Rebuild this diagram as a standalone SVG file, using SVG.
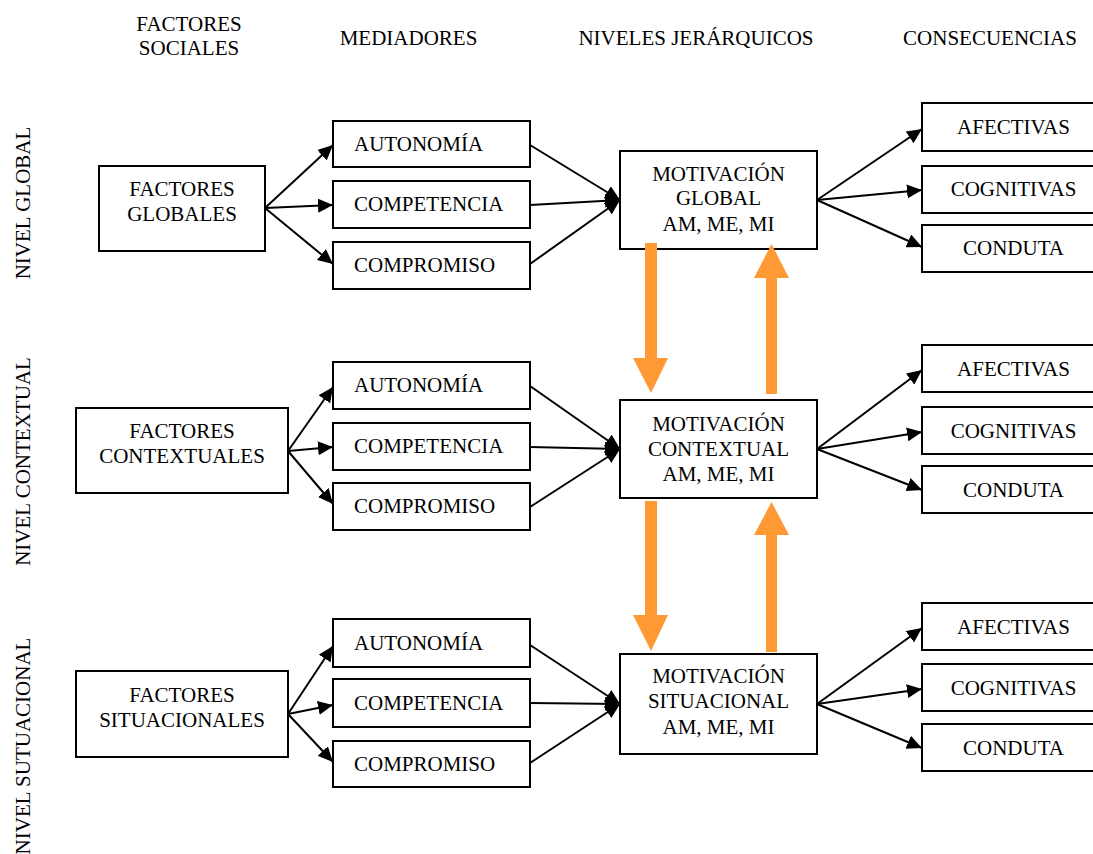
<svg xmlns="http://www.w3.org/2000/svg" width="1093" height="854" viewBox="0 0 1093 854">
  <style>
    text { font-family: "Liberation Serif", "Times New Roman", serif; font-size: 21px; fill: #000; }
    .mid { text-anchor: middle; }
    .box { fill: #fff; stroke: #000; stroke-width: 2; }
    .link { stroke: #000; stroke-width: 2; fill: none; marker-end: url(#arrow); }
    .flow { fill: #FF9933; stroke: none; }
  </style>
  <defs>
    <marker id="arrow" viewBox="0 0 15 14" refX="15" refY="7" markerWidth="15" markerHeight="14" markerUnits="userSpaceOnUse" orient="auto">
      <path d="M0,0 L15,7 L0,14 Z" fill="#000"/>
    </marker>
  </defs>

  <!-- column headings -->
  <g id="headings">
    <text class="mid" x="189" y="31">FACTORES</text>
    <text class="mid" x="189" y="55">SOCIALES</text>
    <text class="mid" x="408.5" y="45">MEDIADORES</text>
    <text class="mid" x="696" y="45">NIVELES JERÁRQUICOS</text>
    <text class="mid" x="990" y="45">CONSECUENCIAS</text>
  </g>

  <!-- level labels -->
  <g id="levels">
    <text class="mid" transform="translate(30,203) rotate(-90)">NIVEL GLOBAL</text>
    <text class="mid" transform="translate(30,461.5) rotate(-90)">NIVEL CONTEXTUAL</text>
    <text class="mid" transform="translate(30,746) rotate(-90)">NIVEL SUTUACIONAL</text>
  </g>

  <!-- connectors -->
  <g id="connectors">
    <!-- global -->
    <line class="link" x1="265" y1="208" x2="333" y2="145"/>
    <line class="link" x1="265" y1="208" x2="333" y2="205"/>
    <line class="link" x1="265" y1="208" x2="333" y2="264"/>
    <line class="link" x1="530" y1="145" x2="620" y2="200"/>
    <line class="link" x1="530" y1="205" x2="620" y2="200"/>
    <line class="link" x1="530" y1="264" x2="620" y2="200"/>
    <line class="link" x1="817" y1="200" x2="922" y2="129"/>
    <line class="link" x1="817" y1="200" x2="922" y2="190"/>
    <line class="link" x1="817" y1="200" x2="922" y2="247"/>
    <!-- contextual -->
    <line class="link" x1="288" y1="451" x2="333" y2="387"/>
    <line class="link" x1="288" y1="451" x2="333" y2="447"/>
    <line class="link" x1="288" y1="451" x2="333" y2="504"/>
    <line class="link" x1="530" y1="386" x2="620" y2="449"/>
    <line class="link" x1="530" y1="447" x2="620" y2="449"/>
    <line class="link" x1="530" y1="507" x2="620" y2="449"/>
    <line class="link" x1="817" y1="449" x2="922" y2="370"/>
    <line class="link" x1="817" y1="449" x2="922" y2="432"/>
    <line class="link" x1="817" y1="449" x2="922" y2="490"/>
    <!-- situational -->
    <line class="link" x1="288" y1="714" x2="333" y2="646"/>
    <line class="link" x1="288" y1="714" x2="333" y2="705"/>
    <line class="link" x1="288" y1="714" x2="333" y2="762"/>
    <line class="link" x1="530" y1="645" x2="620" y2="704"/>
    <line class="link" x1="530" y1="703" x2="620" y2="704"/>
    <line class="link" x1="530" y1="763" x2="620" y2="704"/>
    <line class="link" x1="817" y1="704" x2="922" y2="628"/>
    <line class="link" x1="817" y1="704" x2="922" y2="689"/>
    <line class="link" x1="817" y1="704" x2="922" y2="748"/>
  </g>

  <!-- global level -->
  <g id="factores-globales">
    <rect class="box" x="99" y="166" width="166" height="85"/>
    <text class="mid" x="182" y="196">FACTORES</text>
    <text class="mid" x="182" y="221">GLOBALES</text>
  </g>
  <g id="g-autonomia">
    <rect class="box" x="333" y="121" width="197" height="46"/>
    <text x="354" y="151">AUTONOMÍA</text>
  </g>
  <g id="g-competencia">
    <rect class="box" x="333" y="181" width="197" height="47"/>
    <text x="354" y="211">COMPETENCIA</text>
  </g>
  <g id="g-compromiso">
    <rect class="box" x="333" y="242" width="197" height="47"/>
    <text x="354" y="272">COMPROMISO</text>
  </g>
  <g id="motivacion-global">
    <rect class="box" x="620" y="151" width="197" height="98"/>
    <text class="mid" x="718.5" y="181">MOTIVACIÓN</text>
    <text class="mid" x="718.5" y="205">GLOBAL</text>
    <text class="mid" x="718.5" y="231">AM, ME, MI</text>
  </g>
  <g id="g-afectivas">
    <rect class="box" x="922" y="103" width="180" height="48"/>
    <text class="mid" x="1013.5" y="134">AFECTIVAS</text>
  </g>
  <g id="g-cognitivas">
    <rect class="box" x="922" y="166" width="180" height="47"/>
    <text class="mid" x="1013.5" y="196">COGNITIVAS</text>
  </g>
  <g id="g-conduta">
    <rect class="box" x="922" y="225" width="180" height="47"/>
    <text class="mid" x="1013.5" y="255">CONDUTA</text>
  </g>

  <!-- contextual level -->
  <g id="factores-contextuales">
    <rect class="box" x="76" y="408" width="212" height="85"/>
    <text class="mid" x="182" y="438">FACTORES</text>
    <text class="mid" x="182" y="463">CONTEXTUALES</text>
  </g>
  <g id="c-autonomia">
    <rect class="box" x="333" y="362" width="197" height="47"/>
    <text x="354" y="392">AUTONOMÍA</text>
  </g>
  <g id="c-competencia">
    <rect class="box" x="333" y="423" width="197" height="47"/>
    <text x="354" y="453">COMPETENCIA</text>
  </g>
  <g id="c-compromiso">
    <rect class="box" x="333" y="483" width="197" height="47"/>
    <text x="354" y="513">COMPROMISO</text>
  </g>
  <g id="motivacion-contextual">
    <rect class="box" x="620" y="400" width="197" height="98"/>
    <text class="mid" x="718.5" y="431">MOTIVACIÓN</text>
    <text class="mid" x="718.5" y="456">CONTEXTUAL</text>
    <text class="mid" x="718.5" y="481">AM, ME, MI</text>
  </g>
  <g id="c-afectivas">
    <rect class="box" x="922" y="345" width="180" height="47"/>
    <text class="mid" x="1013.5" y="376">AFECTIVAS</text>
  </g>
  <g id="c-cognitivas">
    <rect class="box" x="922" y="407" width="180" height="47"/>
    <text class="mid" x="1013.5" y="438">COGNITIVAS</text>
  </g>
  <g id="c-conduta">
    <rect class="box" x="922" y="466" width="180" height="47"/>
    <text class="mid" x="1013.5" y="497">CONDUTA</text>
  </g>

  <!-- situational level -->
  <g id="factores-situacionales">
    <rect class="box" x="76" y="671" width="212" height="86"/>
    <text class="mid" x="182" y="702">FACTORES</text>
    <text class="mid" x="182" y="727">SITUACIONALES</text>
  </g>
  <g id="s-autonomia">
    <rect class="box" x="333" y="619" width="197" height="48"/>
    <text x="354" y="650">AUTONOMÍA</text>
  </g>
  <g id="s-competencia">
    <rect class="box" x="333" y="679" width="197" height="48"/>
    <text x="354" y="710">COMPETENCIA</text>
  </g>
  <g id="s-compromiso">
    <rect class="box" x="333" y="741" width="197" height="46"/>
    <text x="354" y="771">COMPROMISO</text>
  </g>
  <g id="motivacion-situacional">
    <rect class="box" x="620" y="654" width="197" height="100"/>
    <text class="mid" x="718.5" y="683">MOTIVACIÓN</text>
    <text class="mid" x="718.5" y="708">SITUACIONAL</text>
    <text class="mid" x="718.5" y="734">AM, ME, MI</text>
  </g>
  <g id="s-afectivas">
    <rect class="box" x="922" y="603" width="180" height="47"/>
    <text class="mid" x="1013.5" y="634">AFECTIVAS</text>
  </g>
  <g id="s-cognitivas">
    <rect class="box" x="922" y="664" width="180" height="47"/>
    <text class="mid" x="1013.5" y="695">COGNITIVAS</text>
  </g>
  <g id="s-conduta">
    <rect class="box" x="922" y="724" width="180" height="47"/>
    <text class="mid" x="1013.5" y="755">CONDUTA</text>
  </g>

  <!-- hierarchical flows between levels -->
  <g id="level-flows">
    <polygon class="flow" points="645,243 657,243 657,358 668,358 651,393 633,358 645,358"/>
    <polygon class="flow" points="766,394 777,394 777,278 789,278 771.5,244 754,278 766,278"/>
    <polygon class="flow" points="645,501 657,501 657,615 668,615 651,651 633,615 645,615"/>
    <polygon class="flow" points="766,652 777,652 777,535 789,535 771.5,502 754,535 766,535"/>
  </g>
</svg>
